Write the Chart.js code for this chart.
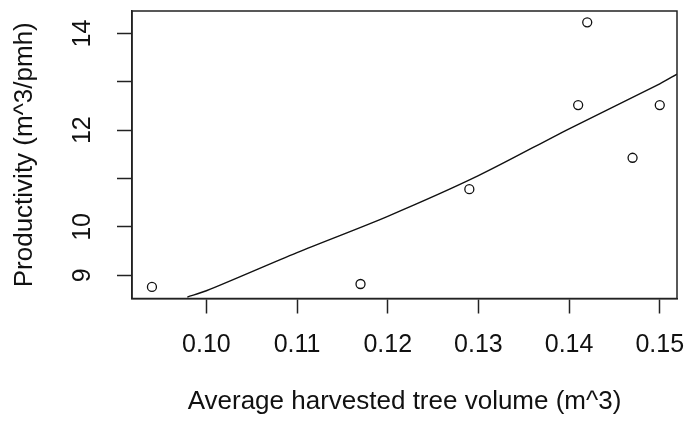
<!DOCTYPE html>
<html>
<head>
<meta charset="utf-8">
<script src="https://cdn.jsdelivr.net/npm/chart.js@4"></script>
<style>
    html, body { margin: 0; padding: 0; background: #ffffff; }
    canvas { display: block; }
</style>
</head>
<body>
<canvas id="chart" width="685" height="426"></canvas>
<script>
    const xTicks = [0.10, 0.11, 0.12, 0.13, 0.14, 0.15];
    const xTickLabels = ["0.10", "0.11", "0.12", "0.13", "0.14", "0.15"];
    const yTicks = [9, 10, 11, 12, 13, 14];
    const yTickLabels = ["9", "10", "", "12", "", "14"];

    const volume = [0.094, 0.117, 0.129, 0.141, 0.142, 0.147, 0.150];
    const productivity = [8.76, 8.82, 10.78, 12.52, 14.23, 11.43, 12.52];

    const fitVolume = [0.0979, 0.10, 0.11, 0.12, 0.13, 0.14, 0.15, 0.1519];
    const fitProductivity = [8.55, 8.68, 9.47, 10.22, 11.06, 12.03, 12.96, 13.16];

    const xTitle = "Average harvested tree volume (m^3)";
    const yTitle = "Productivity (m^3/pmh)";

    const ink = "#222222";
    const tickFont = "25px 'Liberation Sans', Arial, sans-serif";
    const titleFont = "26px 'Liberation Sans', Arial, sans-serif";

    const axisText = {
        id: "axisText",
        afterDraw(chart) {
            const { ctx, chartArea, scales } = chart;
            ctx.save();
            ctx.strokeStyle = ink;
            ctx.lineWidth = 1.5;
            ctx.strokeRect(chartArea.left, chartArea.top, chartArea.right - chartArea.left, chartArea.bottom - chartArea.top);

            ctx.fillStyle = "#111111";
            ctx.textAlign = "center";
            ctx.textBaseline = "middle";

            ctx.font = tickFont;
            xTicks.forEach((value, index) => {
                ctx.fillText(xTickLabels[index], scales.x.getPixelForValue(value), chartArea.bottom + 47);
            });
            yTicks.forEach((value, index) => {
                if (!yTickLabels[index]) {
                    return;
                }
                ctx.save();
                ctx.translate(83, scales.y.getPixelForValue(value));
                ctx.rotate(-Math.PI / 2);
                ctx.fillText(yTickLabels[index], 0, 0);
                ctx.restore();
            });

            ctx.font = titleFont;
            ctx.fillText(xTitle, (chartArea.left + chartArea.right) / 2, chartArea.bottom + 103);
            ctx.translate(25, (chartArea.top + chartArea.bottom) / 2);
            ctx.rotate(-Math.PI / 2);
            ctx.fillText(yTitle, 0, 0);
            ctx.restore();
        }
    };

    const axisStyle = {
        type: "linear",
        ticks: { display: false },
        title: { display: false },
        border: { display: true, color: ink, width: 1.5 },
        grid: { drawOnChartArea: false, drawTicks: true, tickLength: 15, tickColor: ink, tickWidth: 1.5 }
    };

    new Chart(document.getElementById("chart"), {
        type: "scatter",
        data: {
            datasets: [
                {
                    data: volume.map((x, i) => ({ x, y: productivity[i] })),
                    pointStyle: "circle",
                    pointRadius: 4.5,
                    pointBorderWidth: 1.3,
                    pointBorderColor: "#111111",
                    pointBackgroundColor: "rgba(0,0,0,0)"
                },
                {
                    data: fitVolume.map((x, i) => ({ x, y: fitProductivity[i] })),
                    showLine: true,
                    pointRadius: 0,
                    borderColor: "#111111",
                    borderWidth: 1.4,
                    tension: 0.3
                }
            ]
        },
        options: {
            responsive: false,
            animation: false,
            layout: { padding: { left: 0, top: 11, right: 8, bottom: 0 } },
            plugins: { legend: { display: false }, tooltip: { enabled: false } },
            scales: {
                x: {
                    ...axisStyle,
                    min: 0.0918,
                    max: 0.1519,
                    afterBuildTicks: scale => { scale.ticks = xTicks.map(value => ({ value })); },
                    afterFit: scale => { scale.height = 127.5; }
                },
                y: {
                    ...axisStyle,
                    min: 8.52,
                    max: 14.465,
                    afterBuildTicks: scale => { scale.ticks = yTicks.map(value => ({ value })); },
                    afterFit: scale => { scale.width = 132; }
                }
            }
        },
        plugins: [axisText]
    });
</script>
</body>
</html>
